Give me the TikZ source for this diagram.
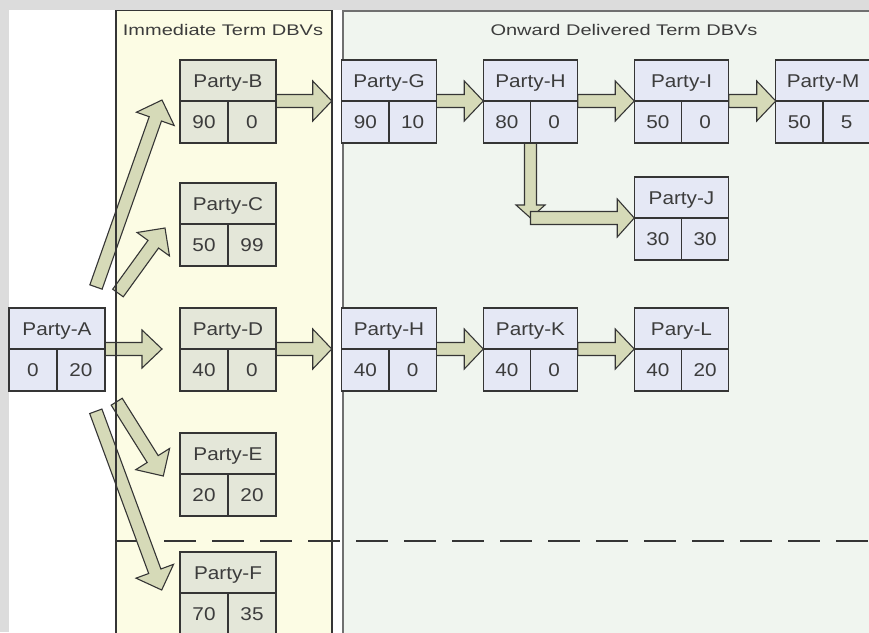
\documentclass[tikz,border=0pt]{standalone}
\usepackage{fontspec}
\setmainfont{Liberation Sans}[FakeStretch=1.12]
\newfontfamily\titlefont{Liberation Sans}[FakeStretch=1.3]
\usetikzlibrary{calc}
\definecolor{bggray}{HTML}{DCDCDC}
\definecolor{ypanel}{HTML}{FCFCE4}
\definecolor{gpanel}{HTML}{F0F5EF}
\definecolor{ybox}{HTML}{E4E7D9}
\definecolor{bbox}{HTML}{E5E8F5}
\definecolor{arrowfill}{HTML}{D6DAB8}
\definecolor{ink}{HTML}{353535}
\definecolor{txt}{HTML}{3C3C3C}
\definecolor{gborder}{HTML}{707070}
\pgfdeclarelayer{bg}
\pgfdeclarelayer{mid}
\pgfsetlayers{bg,mid,main}
\tikzset{
 cell/.style={draw=ink, line width=1.3pt, inner sep=0pt, outer sep=0pt, text=txt,
   font=\fontsize{18.5}{20}\selectfont, text height=13pt, text depth=0pt, align=center},
 ycell/.style={cell, fill=ybox},
 bcell/.style={cell, fill=bbox},
 fatarrowstyle/.style={draw=ink, line width=1.1pt, fill=arrowfill, line join=miter},
 paneltitle/.style={text=txt, font=\titlefont\fontsize{15.4}{17}\selectfont, anchor=base, inner sep=0pt},
}
\newcommand\partybox[8]{%
  \node[#8, minimum width=#4, minimum height=41, anchor=north] (#1) at (#2,#3) {#5};
  \node[#8, minimum width=#4/2, minimum height=42, anchor=north west] (#1-l) at (#1.south west) {#6};
  \node[#8, minimum width=#4/2, minimum height=42, anchor=north east] (#1-r) at (#1.south east) {#7};
}
\newcommand\fatarrow[5]{%
  \path ($(#2)!#5!(#1)$) coordinate (fa-base);
  \draw[fatarrowstyle] ($(#1)!#3!90:(#2)$) -- ($(fa-base)!#3!90:(#2)$) -- ($(fa-base)!#4!90:(#2)$)
    -- (#2) -- ($(fa-base)!#4!-90:(#2)$) -- ($(fa-base)!#3!-90:(#2)$) -- ($(#1)!#3!-90:(#2)$) -- cycle;
}
\begin{document}
\begin{tikzpicture}[x=1pt,y=-1pt]
\useasboundingbox (0,0) rectangle (869,632);
\clip (0,0) rectangle (869,632);
\begin{pgfonlayer}{bg}
\fill[bggray] (0,0) rectangle (869,632);
\fill[white] (9,10) rectangle (880,640);
\fill[ypanel] (116,10.5) rectangle (332,640);
\fill[gpanel] (342.5,10.5) rectangle (880,640);
\draw[draw=ink, line width=2.2pt, dash pattern=on 32pt off 16pt] (116,541) -- (880,541);
\end{pgfonlayer}

% boxes
\partybox{pA}{57}{308}{96}{Party-A}{0}{20}{bcell}
\partybox{pB}{228}{60}{96}{Party-B}{90}{0}{ycell}
\partybox{pC}{228}{183}{96}{Party-C}{50}{99}{ycell}
\partybox{pD}{228}{308}{96}{Party-D}{40}{0}{ycell}
\partybox{pE}{228}{433}{96}{Party-E}{20}{20}{ycell}
\partybox{pF}{228}{552}{96}{Party-F}{70}{35}{ycell}
\partybox{pG}{389}{60}{94.5}{Party-G}{90}{10}{bcell}
\partybox{pH}{530.5}{60}{94.5}{Party-H}{80}{0}{bcell}
\partybox{pI}{681.5}{60}{94.5}{Party-I}{50}{0}{bcell}
\partybox{pM}{823}{60}{94.5}{Party-M}{50}{5}{bcell}
\partybox{pJ}{681.5}{177}{94.5}{Party-J}{30}{30}{bcell}
\partybox{pH2}{389}{308}{94.5}{Party-H}{40}{0}{bcell}
\partybox{pK}{530.5}{308}{94.5}{Party-K}{40}{0}{bcell}
\partybox{pL}{681.5}{308}{94.5}{Pary-L}{40}{20}{bcell}

\node[paneltitle] (t1) at (223,35) {Immediate Term DBVs};
\node[paneltitle] (t2) at (624,35) {Onward Delivered Term DBVs};

% free ends
\coordinate (tipBG) at ([xshift=-10]pG.south west);
\coordinate (tipDH) at ([xshift=-10]pH2.south west);
\coordinate (tipAD) at ([xshift=-18]pD.south west);
\coordinate (tailAB) at (96,287);
\coordinate (tipAB) at (162,100);
\coordinate (tailAC) at (118,293);
\coordinate (tipAC) at (165,228);
\coordinate (tailAE) at (116.7,401.7);
\coordinate (tipAE) at (163.3,476);
\coordinate (tailAF) at (95.8,411.3);
\coordinate (tipAF) at (161.7,590);
\coordinate (jc) at (pH-l.south east |- pJ.south west);

\begin{pgfonlayer}{mid}
\fatarrow{pB.south east}{tipBG}{6.5pt}{20pt}{19pt}
\fatarrow{pG.south east}{pH.south west}{6.5pt}{20pt}{19pt}
\fatarrow{pH.south east}{pI.south west}{6.5pt}{20pt}{19pt}
\fatarrow{pI.south east}{pM.south west}{6.5pt}{20pt}{19pt}
\fatarrow{pA.south east}{tipAD}{6.5pt}{19pt}{20pt}
\fatarrow{pD.south east}{tipDH}{6.5pt}{20pt}{19pt}
\fatarrow{pH2.south east}{pK.south west}{6.5pt}{20pt}{19pt}
\fatarrow{pK.south east}{pL.south west}{6.5pt}{20pt}{19pt}
\fatarrow{tailAB}{tipAB}{6.5pt}{20pt}{20pt}
\fatarrow{tailAC}{tipAC}{6.5pt}{20pt}{20pt}
\fatarrow{tailAE}{tipAE}{6.5pt}{20pt}{20pt}
\fatarrow{tailAF}{tipAF}{6.5pt}{20pt}{20pt}
\fatarrow{pH-l.south east}{jc}{6pt}{14.5pt}{13pt}
\fatarrow{jc}{pJ.south west}{6.5pt}{19pt}{17pt}
\draw[ink, line width=1.2pt] (116,640) -- (116,10.5) -- (332,10.5) -- (332,640);
\draw[gborder, line width=2pt] (342.5,640) -- (342.5,10.5) -- (880,10.5);
\end{pgfonlayer}
\end{tikzpicture}
\end{document}
